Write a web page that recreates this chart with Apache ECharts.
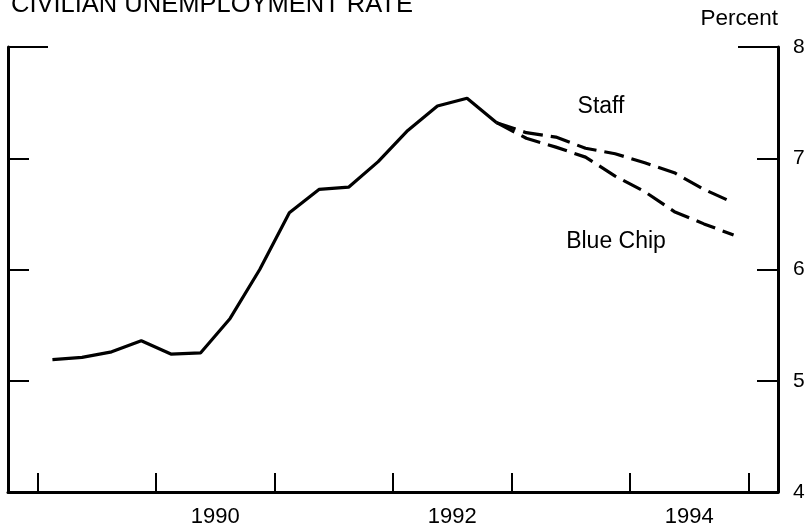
<!DOCTYPE html>
<html>
<head>
<meta charset="utf-8">
<title>Civilian unemployment rate</title>
<script src="https://cdn.jsdelivr.net/npm/echarts@6/dist/echarts.min.js"></script>
<style>
  html, body { margin: 0; padding: 0; background: #fff; }
  #chart { width: 811px; height: 531px; }
</style>
</head>
<body>
<div id="chart"></div>
<script>
// quarterly history, 1989Q1 - 1992Q4 (percent)
const histStart = 1989.125
const history = [5.19, 5.21, 5.26, 5.36, 5.24, 5.25, 5.56, 6.00,
                 6.51, 6.72, 6.74, 6.97, 7.25, 7.47, 7.54, 7.32]

// forecasts, 1992Q4 - 1994Q4
const fcStart = 1992.875
const staff = [7.32, 7.23, 7.19, 7.09, 7.04, 6.96, 6.87, 6.72, 6.60]
const blueChip = [7.32, 7.18, 7.10, 7.01, 6.84, 6.70, 6.52, 6.41, 6.31]

const yearTicks = [1989, 1990, 1991, 1992, 1993, 1994, 1995]
const yearLabels = [1990, 1992, 1994]
const font = 'Liberation Sans'

// quarter index -> mid-quarter date
const toPoints = (start, arr) => arr.map((v, i) => [start + i * 0.25, v])

const chart = echarts.init(document.getElementById('chart'))

// y-axes share the scale; extra ones only draw the inner ticks
const yBase = { type: 'value', min: 4, max: 8, interval: 1, splitLine: { show: false } }
const tickStyle = { color: '#000', width: 2 }

const option = {
    animation: false,
    backgroundColor: '#fff',
    title: {
        text: 'CIVILIAN UNEMPLOYMENT RATE',
        left: 6,
        top: -13,
        textStyle: { fontFamily: font, fontSize: 25.5, fontWeight: 'normal', color: '#000' }
    },
    grid: { left: 8, right: 33, top: 47, bottom: 39 },
    xAxis: {
        type: 'value',
        min: 1988.75,
        max: 1995.25,
        splitLine: { show: false },
        axisLine: { lineStyle: { color: '#000', width: 3 } },
        axisTick: { inside: true, length: 19, customValues: yearTicks, lineStyle: tickStyle },
        axisLabel: {
            customValues: yearLabels.map(y => y + 0.5),
            formatter: v => String(Math.floor(v)),
            fontFamily: font, fontSize: 22, color: '#000', margin: 14
        }
    },
    yAxis: [
        {
            ...yBase,
            position: 'right',
            name: 'Percent',
            nameLocation: 'end',
            nameGap: 17,
            nameTextStyle: { fontFamily: font, fontSize: 22.5, color: '#000', align: 'right' },
            axisLine: { show: true, lineStyle: { color: '#000', width: 3 } },
            axisTick: { inside: true, length: 21, customValues: [5, 6, 7], lineStyle: tickStyle },
            axisLabel: { fontFamily: font, fontSize: 21, color: '#000', margin: 15 }
        },
        {
            ...yBase,
            position: 'left',
            axisLine: { show: true, lineStyle: { color: '#000', width: 3 } },
            axisTick: { inside: true, length: 21, customValues: [5, 6, 7], lineStyle: tickStyle },
            axisLabel: { show: false }
        },
        {
            ...yBase,
            position: 'right',
            axisLine: { show: false },
            axisTick: { show: true, inside: true, length: 40, customValues: [8], lineStyle: tickStyle },
            axisLabel: { show: false }
        },
        {
            ...yBase,
            position: 'left',
            axisLine: { show: false },
            axisTick: { show: true, inside: true, length: 40, customValues: [8], lineStyle: tickStyle },
            axisLabel: { show: false }
        }
    ],
    series: [
        {
            name: 'Actual',
            type: 'line',
            data: toPoints(histStart, history),
            symbol: 'none',
            lineStyle: { color: '#000', width: 3.2 }
        },
        {
            name: 'Staff',
            type: 'line',
            data: toPoints(fcStart, staff),
            symbol: 'none',
            lineStyle: { color: '#000', width: 3.2, type: [20, 8] }
        },
        {
            name: 'Blue Chip',
            type: 'line',
            data: toPoints(fcStart, blueChip),
            symbol: 'none',
            lineStyle: { color: '#000', width: 3.2, type: [20, 8] }
        }
    ],
    graphic: [
        {
            type: 'text', x: 601, y: 107,
            style: { text: 'Staff', font: '23px ' + font, fill: '#000', align: 'center', verticalAlign: 'middle' }
        },
        {
            type: 'text', x: 616, y: 242,
            style: { text: 'Blue Chip', font: '23px ' + font, fill: '#000', align: 'center', verticalAlign: 'middle' }
        }
    ]
}

chart.setOption(option)
</script>
</body>
</html>
